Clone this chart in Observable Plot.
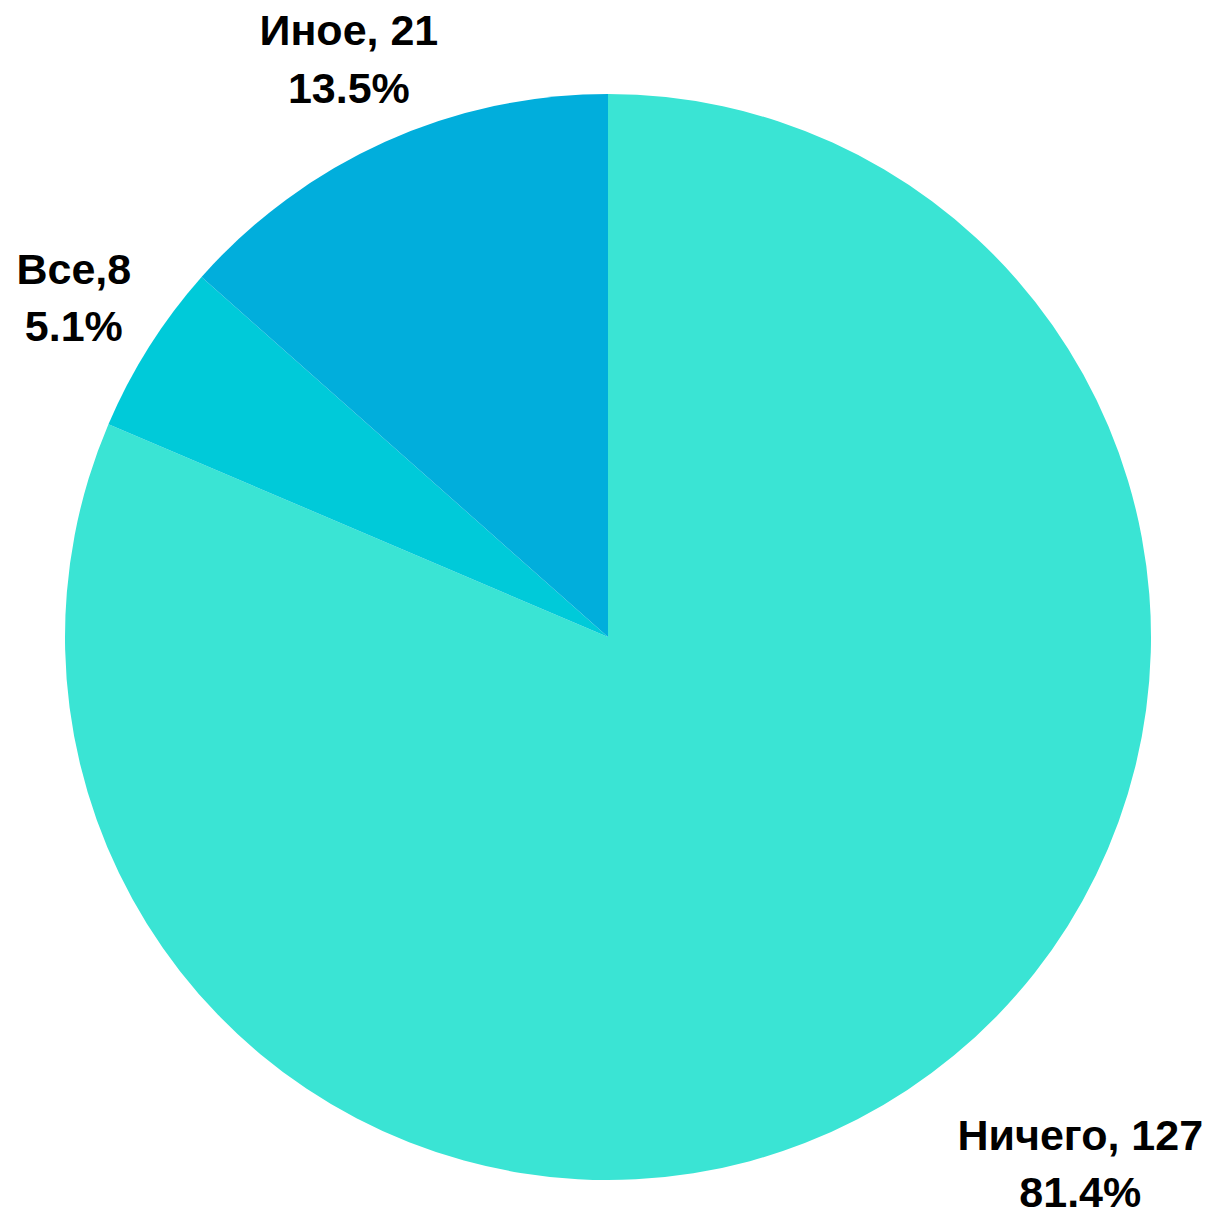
<!DOCTYPE html>
<html>
<head>
<meta charset="utf-8">
<script src="https://cdn.jsdelivr.net/npm/d3@7"></script>
<script src="https://cdn.jsdelivr.net/npm/@observablehq/plot@0.6"></script>
<style>
  html, body { margin: 0; padding: 0; background: #fff; }
  #chart svg { display: block; }
</style>
</head>
<body>
<div id="chart"></div>
<script>
// ---- data ----
const categories = ["Ничего", "Все", "Иное"];
const values = [127, 8, 21];
const labelSeparators = [", ", ",", ", "];
const colors = ["#3ae4d4", "#00cad9", "#01aedc"];

// ---- layout ----
const W = 1208, H = 1213;
const cx = 608, cy = 637, R = 543;          // pie centre and radius in px
const labelRadius = 1.165;                   // in units of R
const labelNudge = {"Ничего": 123, "Все": 0, "Иное": 0}; // horizontal px nudge

const total = d3.sum(values);
const data = categories.map((c, i) => ({
  category: c,
  value: values[i],
  pct: (values[i] / total * 100).toFixed(1),
  sep: labelSeparators[i],
  color: colors[i]
}));

const arcs = d3.pie().sort(null).value(d => d.value).startAngle(0).endAngle(2 * Math.PI)(data);

const labels = arcs.map(a => {
  const mid = (a.startAngle + a.endAngle) / 2;
  return {
    x: Math.sin(mid) * labelRadius,
    y: Math.cos(mid) * labelRadius,
    nudge: labelNudge[a.data.category],
    text: `${a.data.category}${a.data.sep}${a.data.value}\n${a.data.pct}%`
  };
});

// custom render mark: pie slices drawn through Plot's x/y scales
function pieSlices(index, scales) {
  const x0 = scales.x(0), y0 = scales.y(0);
  const r = scales.x(1) - scales.x(0);
  const arcGen = d3.arc().innerRadius(0).outerRadius(r);
  const g = d3.create("svg:g").attr("transform", `translate(${x0},${y0})`);
  g.selectAll("path")
    .data(arcs)
    .join("path")
    .attr("d", arcGen)
    .attr("fill", d => d.data.color);
  return g.node();
}

const chart = Plot.plot({
  width: W,
  height: H,
  margin: 0,
  x: {domain: [-cx / R, (W - cx) / R], range: [0, W], axis: null},
  y: {domain: [-(H - cy) / R, cy / R], range: [H, 0], axis: null},
  style: {fontFamily: "'Liberation Sans', Arial, sans-serif", background: "#fff"},
  marks: [
    pieSlices,
    ...labels.map(l => Plot.text([l], {
      x: "x", y: "y", text: "text", dx: l.nudge, dy: -5,
      fontSize: 43, fontWeight: "bold", fill: "#000",
      lineHeight: 1.33, textAnchor: "middle", lineAnchor: "middle"
    }))
  ]
});

document.getElementById("chart").appendChild(chart);
</script>
</body>
</html>
